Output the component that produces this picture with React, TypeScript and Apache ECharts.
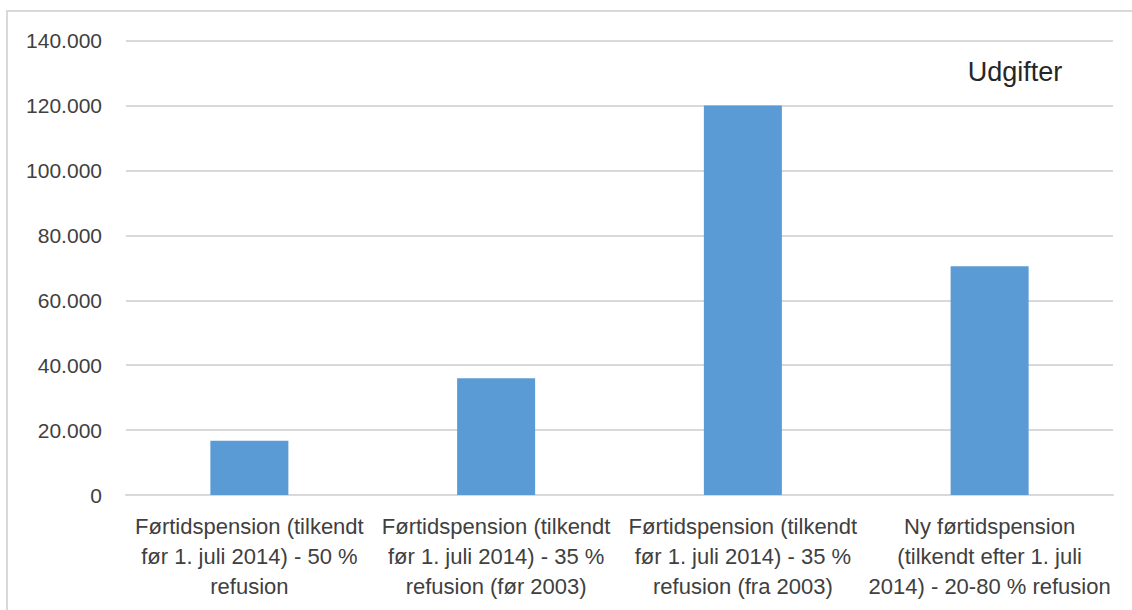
import React, { useEffect, useRef } from "react";
import * as echarts from "echarts";

const categories = [
  "Førtidspension (tilkendt\nfør 1. juli 2014) - 50 %\nrefusion",
  "Førtidspension (tilkendt\nfør 1. juli 2014) - 35 %\nrefusion (før 2003)",
  "Førtidspension (tilkendt\nfør 1. juli 2014) - 35 %\nrefusion (fra 2003)",
  "Ny førtidspension\n(tilkendt efter 1. juli\n2014) - 20-80 % refusion",
];
const udgifter = [16700, 36000, 120000, 70500];
const seriesName = "Udgifter";
const yMin = 0;
const yMax = 140000;
const yInterval = 20000;

const fmt = (v: number) => String(v).replace(/\B(?=(\d{3})+(?!\d))/g, ".");

export default function App() {
  const ref = useRef<HTMLDivElement>(null);
  useEffect(() => {
    if (!ref.current) return;
    const chart = echarts.init(ref.current, undefined, { renderer: "svg" });
    const font = "'Liberation Sans', Arial, sans-serif";
    chart.setOption({
      animation: false,
      backgroundColor: "#ffffff",
      grid: { left: 126, right: 19, top: 40.7, bottom: 115, containLabel: false },
      graphic: [
        {
          type: "rect",
          shape: { x: 7, y: 11, width: 1200, height: 700 },
          style: { fill: "none", stroke: "#D9D9D9", lineWidth: 2 },
          silent: true,
        },
        {
          type: "text",
          x: 1015,
          y: 72,
          style: {
            text: seriesName,
            fill: "#262626",
            font: `27px ${font}`,
            textAlign: "center",
            textVerticalAlign: "middle",
          },
        },
      ],
      xAxis: {
        type: "category",
        data: categories,
        axisLine: { show: true, lineStyle: { color: "#D9D9D9", width: 2 } },
        axisTick: { show: false },
        axisLabel: {
          interval: 0,
          color: "#404040",
          fontFamily: font,
          fontSize: 22,
          lineHeight: 30,
          margin: 16,
          align: "center",
        },
      },
      yAxis: {
        type: "value",
        min: yMin,
        max: yMax,
        interval: yInterval,
        axisLine: { show: false },
        axisTick: { show: false },
        splitLine: { lineStyle: { color: "#D9D9D9", width: 2 } },
        axisLabel: {
          color: "#404040",
          fontFamily: font,
          fontSize: 21,
          margin: 24,
          formatter: (v: number) => fmt(v),
        },
      },
      series: [
        {
          name: seriesName,
          type: "bar",
          data: udgifter,
          barWidth: 78,
          itemStyle: { color: "#5B9BD5" },
        },
      ],
    });
    return () => chart.dispose();
  }, []);
  return (
    <div
      ref={ref}
      style={{ position: "absolute", left: 0, top: 0, width: 1132, height: 610 }}
    />
  );
}
